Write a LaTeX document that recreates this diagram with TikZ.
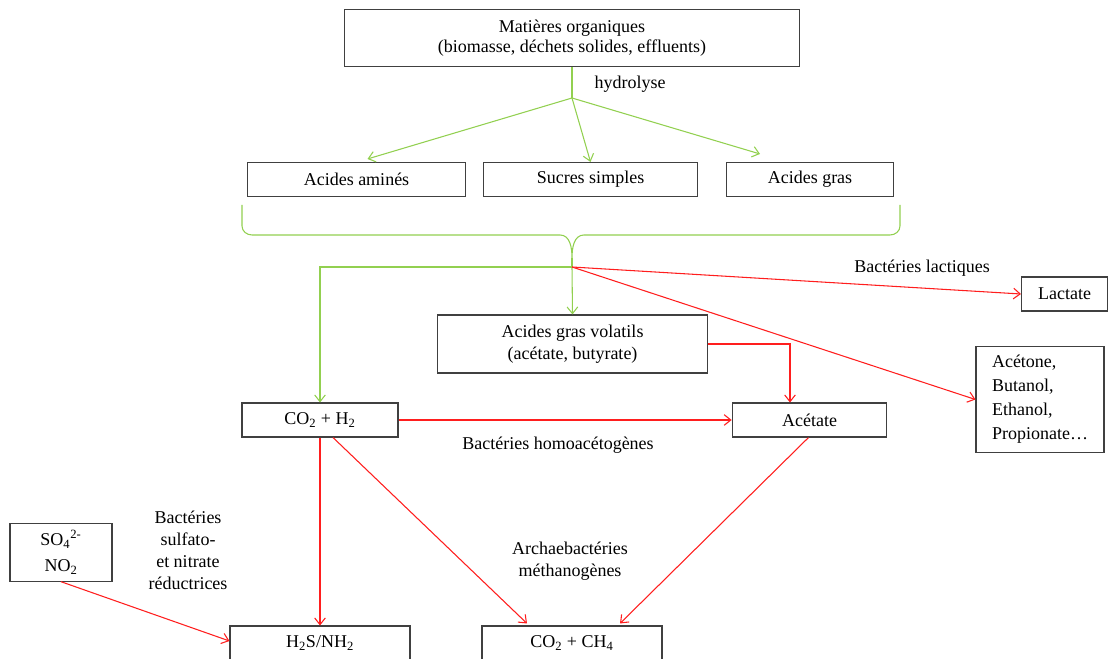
\documentclass[tikz,border=0pt]{standalone}
\usepackage{fontspec}
\setmainfont{Liberation Serif}
\usetikzlibrary{calc, positioning, arrows.meta}
\definecolor{hydro}{RGB}{146, 208, 80}
\definecolor{ferm}{RGB}{255, 30, 30}

\begin{document}
\begin{tikzpicture}[x=0.75pt, y=-0.75pt, font=\fontsize{13.5}{16.5}\selectfont,
  box/.style={draw=black!75, line width=0.8pt, inner sep=0pt, align=center},
  smallbox/.style={box, minimum height=25.5pt},
  grnline/.style={draw=hydro, line width=0.8pt},
  grn/.style={grnline, -{Straight Barb[length=5pt, width=8pt]}},
  fermarrow/.style={draw=ferm, line width=0.8pt, -{Straight Barb[length=5pt, width=8pt]}}]
  \useasboundingbox (0,0) rectangle (1108,659);

  % substrate and hydrolysis products
  \node[box, minimum width=341pt, minimum height=43pt, font=\fontsize{13.5}{15}\selectfont] (top) at (572,38)
    {Matières organiques\\(biomasse, déchets solides, effluents)};
  \node[smallbox, minimum width=163pt] (amines) at (356.5,179.5) {Acides aminés};
  \node[smallbox, minimum width=160pt] (sucres) at (590.5,179.5) {Sucres simples};
  \node[smallbox, minimum width=125pt] (gras) at (810,179.5) {Acides gras};

  % intermediates
  \node[box, minimum width=203pt, minimum height=43.5pt] (agv) at (572.5,344)
    {Acides gras volatils\\(acétate, butyrate)};
  \node[smallbox, minimum width=64.5pt] (lactate) at (1064.5,294) {Lactate};
  \node[box, minimum width=96pt, minimum height=79pt, align=left, font=\fontsize{13.5}{18}\selectfont] (solvants) at (1040,399.5)
    {Acétone,\\Butanol,\\Ethanol,\\Propionate\dots};
  \node[smallbox, minimum width=117pt] (coh) at (320,420) {CO\textsubscript{2} + H\textsubscript{2}};
  \node[smallbox, minimum width=116pt] (acetate) at (809.5,420) {Acétate};

  % final products
  \node[box, minimum width=76.5pt, minimum height=43pt, font=\fontsize{13.5}{19.5}\selectfont] (sulf) at (61,552.5)
    {SO\textsubscript{4}\textsuperscript{2-}\\NO\textsubscript{2}};
  \node[smallbox, minimum width=135pt] (hs) at (320,643) {H\textsubscript{2}S/NH\textsubscript{2}};
  \node[smallbox, minimum width=135pt] (ch) at (572,643) {CO\textsubscript{2} + CH\textsubscript{4}};

  % labels
  \node (hydrolyse) at (630,84) {hydrolyse};
  \node (lactiques) at (922,268) {Bactéries lactiques};
  \node (homo) at (558,445) {Bactéries homoacétogènes};
  \node[align=center] (sulfato) at (188,550) {Bactéries\\sulfato-\\et nitrate\\réductrices};
  \node[align=center] (archae) at (570,561) {Archaebactéries\\méthanogènes};

  % hydrolysis
  \coordinate (h) at (572,98);
  \draw[grnline] (top.south) -- (h);
  \draw[grn] (h) -- (sucres.north);
  \draw[grn] (h) -- ($(amines.north)+(11,-3)$);
  \draw[grn] (h) -- ($(gras.north)+(-50,-8)$);

  % brace
  \coordinate (tip) at (572,258);
  \coordinate (j) at (572,267);
  \draw[grnline] (242,205) -- (242,226)
    to[out=-90, in=180] (252,235) -- (560,235) to[out=0, in=90] (572,258)
    to[out=90, in=180] (584,235) -- (890,235) to[out=0, in=-90] (900,226) -- (900,205);
  \draw[grnline] (tip) -- (j);
  \draw[grn] (j) -- (agv.north);
  \draw[grn] (j) -| (coh.north);

  % fermentation
  \draw[fermarrow] (j) -- (lactate.west);
  \draw[fermarrow] (j) -- (solvants.west);
  \draw[fermarrow] (agv.east) -| ($(acetate.north)+(-19.5,0)$);
  \draw[fermarrow] (coh.east) -- (acetate.west);
  \draw[fermarrow] (coh.south) -- (hs.north);
  \draw[fermarrow] ($(coh.south)+(13,0)$) -- ($(ch.north)+(-45,-2)$);
  \draw[fermarrow] ($(acetate.south)+(-1,0)$) -- ($(ch.north)+(48,-2)$);
  \draw[fermarrow] (sulf.south) -- ($(hs.west)+(0,-2)$);
\end{tikzpicture}
\end{document}
